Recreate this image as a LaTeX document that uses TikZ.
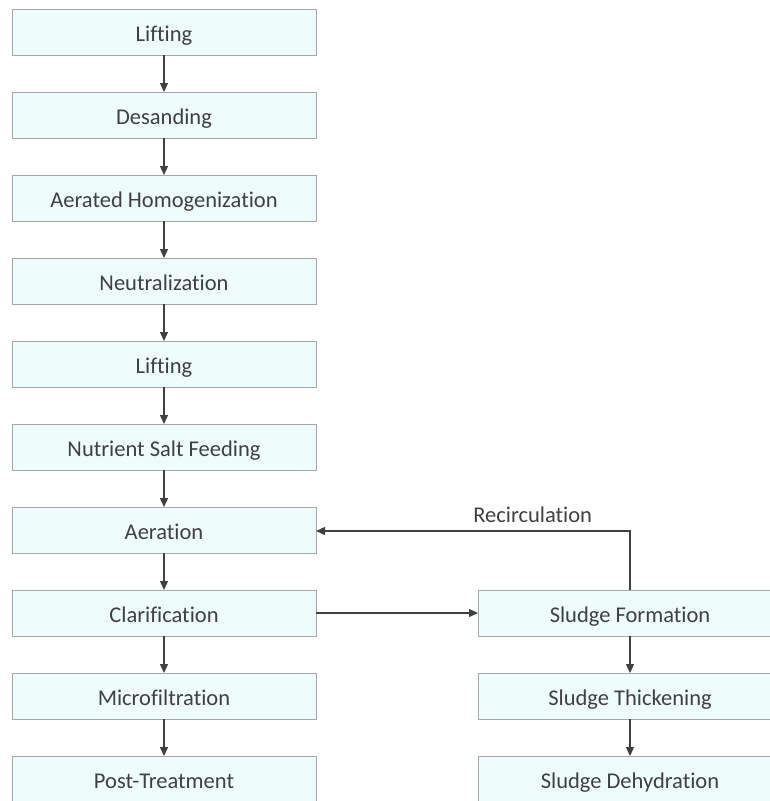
\documentclass[tikz,border=0pt]{standalone}
\usepackage{fontspec}
\setmainfont{Carlito}[Ligatures=CommonOff]
\usepackage{tikz}
\usetikzlibrary{arrows.meta,positioning}
\definecolor{boxfill}{HTML}{EFFCFC}
\definecolor{boxline}{HTML}{A6A6A6}
\definecolor{ink}{HTML}{404040}

\begin{document}
\begin{tikzpicture}[
    node distance=37pt,
    >={Triangle[length=9pt,width=8pt]},
    every node/.style={font=\fontsize{22.5}{26}\selectfont, text=ink},
    pbox/.style={draw=boxline, line width=0.9pt, fill=boxfill, minimum width=304pt, minimum height=46pt, inner sep=0pt, outer sep=0pt, text height=21pt, text depth=3pt, align=center},
    flow/.style={->, draw=ink, line width=1.3pt}
]
    \useasboundingbox (0,0) rectangle (769pt,-801pt);

    % Main line (left column)
    \node [pbox] (lift1) at (164pt,-32pt) {Lifting};
    \node [pbox, below=of lift1] (desand) {Desanding};
    \node [pbox, below=of desand] (homog) {Aerated Homogenization};
    \node [pbox, below=of homog] (neutral) {Neutralization};
    \node [pbox, below=of neutral] (lift2) {Lifting};
    \node [pbox, below=of lift2] (nutrient) {Nutrient Salt Feeding};
    \node [pbox, below=of nutrient] (aeration) {Aeration};
    \node [pbox, below=of aeration] (clarif) {Clarification};
    \node [pbox, below=of clarif] (microfil) {Microfiltration};
    \node [pbox, below=of microfil] (post) {Post-Treatment};

    % Sludge line (right column)
    \node [pbox, right=162pt of clarif] (sform) {Sludge Formation};
    \node [pbox, below=of sform] (sthick) {Sludge Thickening};
    \node [pbox, below=of sthick] (sdehyd) {Sludge Dehydration};

    % Arrows
    \draw[flow] (lift1) -- (desand);
    \draw[flow] (desand) -- (homog);
    \draw[flow] (homog) -- (neutral);
    \draw[flow] (neutral) -- (lift2);
    \draw[flow] (lift2) -- (nutrient);
    \draw[flow] (nutrient) -- (aeration);
    \draw[flow] (aeration) -- (clarif);
    \draw[flow] (clarif) -- (microfil);
    \draw[flow] (microfil) -- (post);
    \draw[flow] (clarif) -- (sform);
    \draw[flow] (sform) -- (sthick);
    \draw[flow] (sthick) -- (sdehyd);
    \draw[flow] (sform.north) |- ([yshift=-1pt]aeration.east) node[pos=0.655, above=4pt]{Recirculation};
\end{tikzpicture}
\end{document}
